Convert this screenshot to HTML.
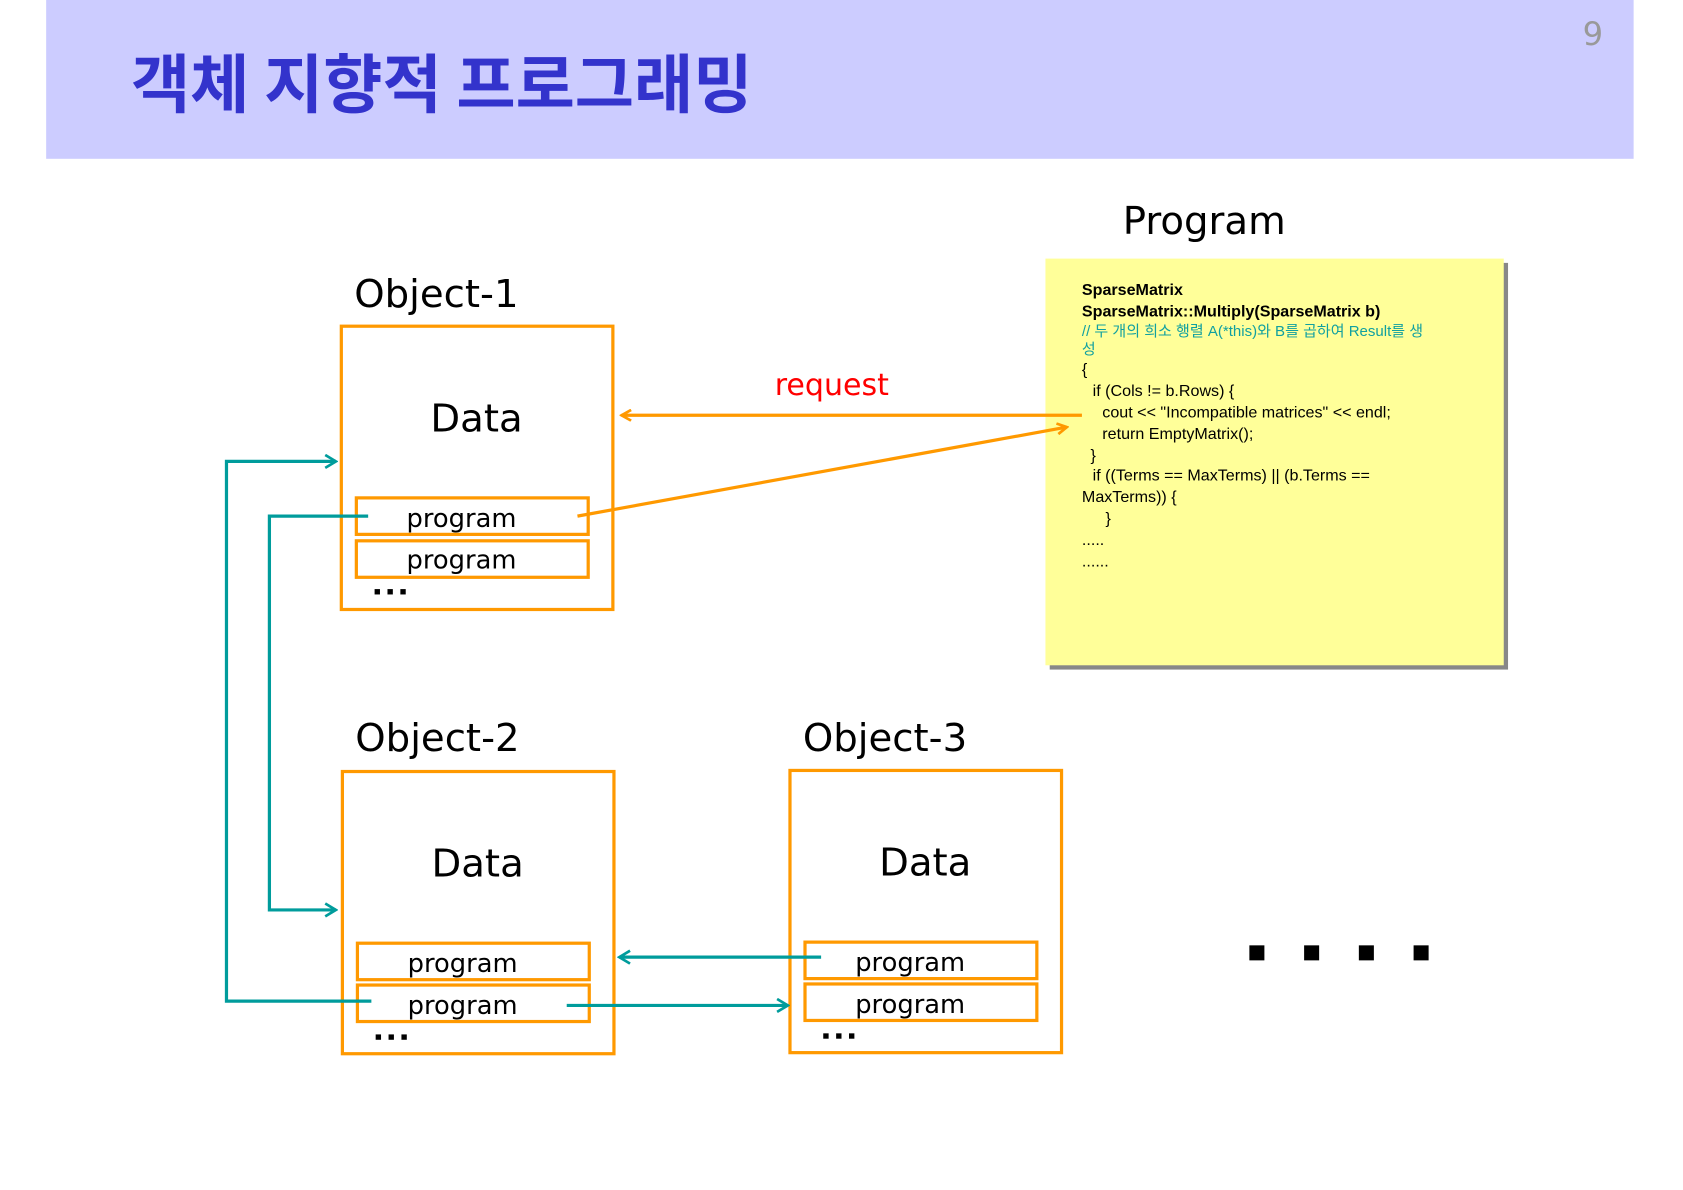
<!DOCTYPE html>
<html><head><meta charset="utf-8"><style>
html,body{margin:0;padding:0;background:#fff;}
svg{display:block;}
text{font-family:"DejaVu Sans","Liberation Sans","Noto Sans CJK KR",sans-serif;}
.c{font-family:"Liberation Sans","Noto Sans CJK KR",sans-serif;font-size:15px;fill:#000;}
</style></head><body>
<svg width="1683" height="1190" viewBox="0 0 1568 1109" preserveAspectRatio="none" xmlns="http://www.w3.org/2000/svg">
<defs>
<marker id="ao" markerWidth="12" markerHeight="12" refX="10" refY="6" orient="auto" markerUnits="userSpaceOnUse"><path d="M1,1 L10,6 L1,11" fill="none" stroke="#ff9900" stroke-width="2.5"/></marker>
<marker id="at" markerWidth="14" markerHeight="14" refX="12" refY="7" orient="auto" markerUnits="userSpaceOnUse"><path d="M2,1 L12,7 L2,13" fill="none" stroke="#009c9c" stroke-width="2.5"/></marker>
</defs>
<rect x="43" y="0" width="1479" height="148" fill="#ccccff"/>
<text x="122" y="100" font-size="60" font-weight="bold" fill="#3333cc" style="font-family:'Noto Sans CJK KR',sans-serif">객체 지향적 프로그래밍</text>
<text x="1484" y="42" font-size="30" fill="#999" text-anchor="middle">9</text>

<text x="1046" y="218" font-size="36" fill="#000">Program</text>
<rect x="978" y="245" width="427" height="379" fill="#888"/>
<rect x="974" y="241" width="427" height="379" fill="#ffff99"/>
<text class="c" x="1008" y="275" font-weight="bold">SparseMatrix</text>
<text class="c" x="1008" y="295" font-weight="bold">SparseMatrix::Multiply(SparseMatrix b)</text>
<text class="c" x="1008" y="313" fill="#11a0a0" style="fill:#11a0a0;font-size:14px">// 두 개의 희소 행렬 A(*this)와 B를 곱하여 Result를 생</text>
<text class="c" x="1008" y="330" style="fill:#11a0a0;font-size:14px">성</text>
<text class="c" x="1008" y="349">{</text>
<text class="c" x="1018" y="369">if (Cols != b.Rows) {</text>
<text class="c" x="1027" y="389">cout &lt;&lt; "Incompatible matrices" &lt;&lt; endl;</text>
<text class="c" x="1027" y="409">return EmptyMatrix();</text>
<text class="c" x="1016" y="429">}</text>
<text class="c" x="1018" y="448">if ((Terms == MaxTerms) || (b.Terms ==</text>
<text class="c" x="1008" y="468">MaxTerms)) {</text>
<text class="c" x="1030" y="488">}</text>
<text class="c" x="1008" y="508">.....</text>
<text class="c" x="1008" y="528">......</text>

<g fill="none" stroke="#ff9900" stroke-width="3">
<rect x="318" y="304" width="253" height="264"/>
<rect x="332" y="464" width="216" height="34"/>
<rect x="332" y="504" width="216" height="34"/>
<rect x="319" y="719" width="253" height="263"/>
<rect x="333" y="879" width="216" height="34"/>
<rect x="333" y="918" width="216" height="34"/>
<rect x="736" y="718" width="253" height="263"/>
<rect x="750" y="878" width="216" height="34"/>
<rect x="750" y="917" width="216" height="34"/>
</g>
<g font-size="36" fill="#000">
<text x="330" y="286">Object-1</text>
<text x="331" y="700">Object-2</text>
<text x="748" y="700">Object-3</text>
<text x="444" y="402" text-anchor="middle">Data</text>
<text x="445" y="817" text-anchor="middle">Data</text>
<text x="862" y="816" text-anchor="middle">Data</text>
</g>
<g font-size="24" fill="#000" text-anchor="middle">
<text x="430" y="491">program</text>
<text x="430" y="530">program</text>
<text x="431" y="906">program</text>
<text x="431" y="945">program</text>
<text x="848" y="905">program</text>
<text x="848" y="944">program</text>
</g>
<g fill="#000">
<rect x="349" y="549" width="5" height="5"/><rect x="361" y="549" width="5" height="5"/><rect x="373" y="549" width="5" height="5"/>
<rect x="350" y="964" width="5" height="5"/><rect x="362" y="964" width="5" height="5"/><rect x="374" y="964" width="5" height="5"/>
<rect x="767" y="963" width="5" height="5"/><rect x="779" y="963" width="5" height="5"/><rect x="791" y="963" width="5" height="5"/>
<rect x="1164" y="881" width="14" height="14"/><rect x="1215" y="881" width="14" height="14"/><rect x="1266" y="881" width="14" height="14"/><rect x="1317" y="881" width="14" height="14"/>
</g>

<text x="775" y="368" font-size="28" fill="#ff0000" text-anchor="middle">request</text>
<line x1="1008" y1="387" x2="579" y2="387" stroke="#ff9900" stroke-width="3" marker-end="url(#ao)"/>
<line x1="538" y1="481" x2="994" y2="398" stroke="#ff9900" stroke-width="3" marker-end="url(#ao)"/>

<g fill="none" stroke="#009c9c" stroke-width="3">
<polyline points="343,481 251,481 251,848 313,848" marker-end="url(#at)"/>
<polyline points="346,933 211,933 211,430 313,430" marker-end="url(#at)"/>
<line x1="765" y1="892" x2="577" y2="892" marker-end="url(#at)"/>
<line x1="528" y1="937" x2="734" y2="937" marker-end="url(#at)"/>
</g>
</svg>
</body></html>
